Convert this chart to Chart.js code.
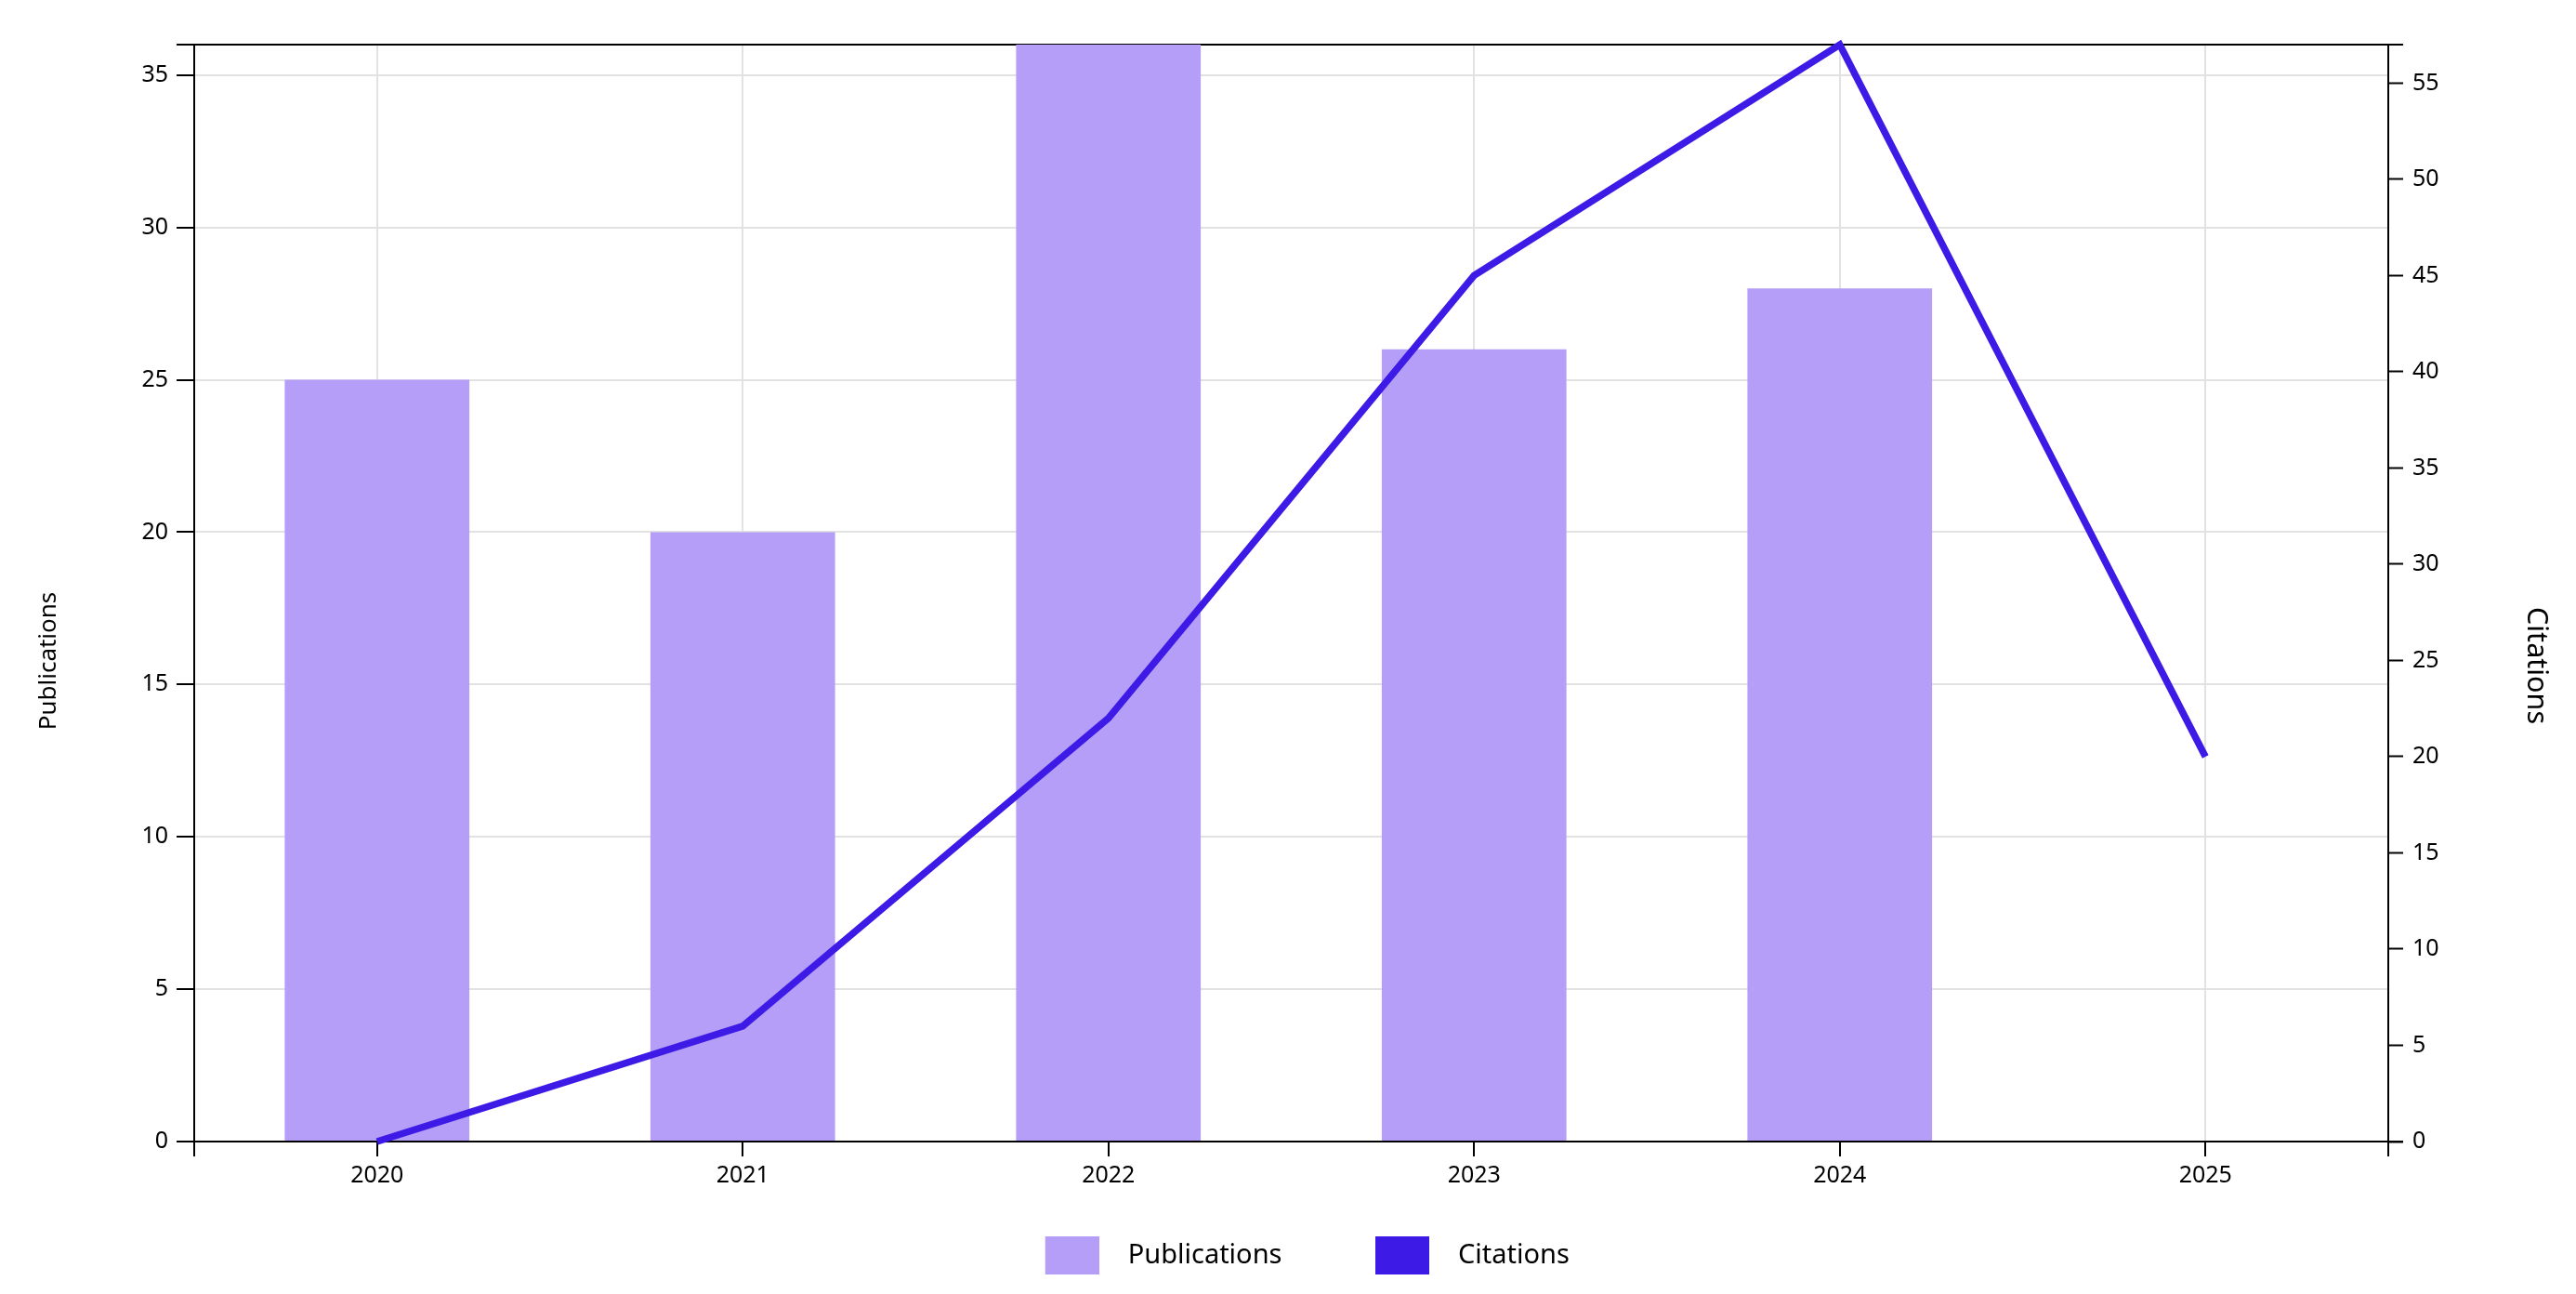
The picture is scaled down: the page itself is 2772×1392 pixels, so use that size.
<!DOCTYPE html>
<html>
<head>
<meta charset="utf-8">
<script src="https://cdn.jsdelivr.net/npm/chart.js@4/dist/chart.umd.min.js"></script>
<style>
html,body{margin:0;padding:0;background:#fff;}
#wrap{width:2772px;height:1392px;}
</style>
</head>
<body>
<div id="wrap"><canvas id="c" width="2772" height="1392"></canvas></div>
<script>
const years = ['2020', '2021', '2022', '2023', '2024', '2025'];
const publications = [25, 20, 36, 26, 28, 0];
const citations = [0, 6, 22, 45, 57, 20];
const seriesNames = ['Publications', 'Citations'];
const axisTitles = ['Publications', 'Citations'];

const FONT = "'Noto Sans', sans-serif";
const PUB_COLOR = '#b59ef8';
const CIT_COLOR = '#3d1ae6';
const GRID = '#e2e2e2';

// legend swatch: transparent lead-in, then a 58x41 colour block
function swatch(color) {
  const cv = document.createElement('canvas');
  cv.width = 102; cv.height = 41;
  const g = cv.getContext('2d');
  g.fillStyle = color;
  g.fillRect(44, 0, 58, 41);
  return cv;
}

const framePlugin = {
  id: 'frame',
  beforeDatasetsDraw(chart) {
    const {ctx, chartArea: a} = chart;
    ctx.save();
    ctx.strokeStyle = '#000';
    ctx.lineWidth = 2;
    ctx.beginPath();
    ctx.moveTo(a.left - 19, a.top);
    ctx.lineTo(a.right + 16, a.top);
    ctx.moveTo(a.left, a.bottom);
    ctx.lineTo(a.left, a.bottom + 16);
    ctx.moveTo(a.right, a.bottom);
    ctx.lineTo(a.right, a.bottom + 16);
    ctx.stroke();
    ctx.restore();
  },
  afterDatasetDraw(chart, args) {
    if (args.index !== 0) return;
    const {ctx, chartArea: a} = chart;
    ctx.save();
    ctx.strokeStyle = '#000';
    ctx.lineWidth = 2;
    ctx.beginPath();
    ctx.moveTo(a.left - 19, a.bottom);
    ctx.lineTo(a.right + 16, a.bottom);
    ctx.stroke();
    ctx.restore();
  },
  afterDraw(chart) {
    const {ctx} = chart;
    ctx.save();
    ctx.fillStyle = '#000';
    ctx.textAlign = 'center';
    ctx.textBaseline = 'middle';
    ctx.translate(53, 711);
    ctx.rotate(-Math.PI / 2);
    ctx.font = "26px " + FONT;
    ctx.fillText(axisTitles[0], 0, 0);
    ctx.restore();
    ctx.save();
    ctx.fillStyle = '#000';
    ctx.textAlign = 'center';
    ctx.textBaseline = 'middle';
    ctx.translate(2729, 716);
    ctx.rotate(Math.PI / 2);
    ctx.font = "30.5px " + FONT;
    ctx.fillText(axisTitles[1], 0, 0);
    ctx.restore();
  }
};

new Chart(document.getElementById('c'), {
  data: {
    labels: years,
    datasets: [
      {
        type: 'bar',
        label: seriesNames[0],
        data: publications,
        backgroundColor: PUB_COLOR,
        borderWidth: 0,
        yAxisID: 'yL',
        order: 2,
        categoryPercentage: 1.0,
        barPercentage: 0.505
      },
      {
        type: 'line',
        label: seriesNames[1],
        data: citations,
        borderColor: CIT_COLOR,
        backgroundColor: CIT_COLOR,
        borderWidth: 7.5,
        pointRadius: 0,
        pointHoverRadius: 0,
        tension: 0,
        fill: false,
        clip: false,
        yAxisID: 'yR',
        order: 1
      }
    ]
  },
  options: {
    responsive: false,
    animation: false,
    devicePixelRatio: 1,
    layout: { padding: { top: 48, left: 0, right: 19, bottom: 17 } },
    scales: {
      x: {
        type: 'category',
        offset: true,
        grid: { offset: false, color: GRID, lineWidth: 2, tickColor: '#000', tickWidth: 2, tickLength: 16, drawOnChartArea: true },
        border: { color: '#000', width: 2 },
        ticks: { color: '#000', font: { family: FONT, size: 25 }, padding: 6, maxRotation: 0, autoSkip: false },
        afterFit(s) { s.height = 68; }
      },
      yL: {
        type: 'linear',
        position: 'left',
        min: 0,
        max: Math.max(...publications),
        grid: { color: GRID, lineWidth: 2, tickColor: '#000', tickWidth: 2, tickLength: 19, drawOnChartArea: true },
        border: { color: '#000', width: 2 },
        ticks: { stepSize: 5, includeBounds: false, color: '#000', font: { family: FONT, size: 25 }, padding: 9 },
        afterFit(s) { s.width = 209; }
      },
      yR: {
        type: 'linear',
        position: 'right',
        min: 0,
        max: Math.max(...citations),
        grid: { drawOnChartArea: false, tickColor: '#000', tickWidth: 2, tickLength: 16 },
        border: { color: '#000', width: 2 },
        ticks: { stepSize: 5, includeBounds: false, color: '#000', font: { family: FONT, size: 25 }, padding: 10 },
        afterFit(s) { s.width = 183; }
      }
    },
    plugins: {
      tooltip: { enabled: false },
      legend: {
        position: 'bottom',
        labels: {
          color: '#000',
          font: { family: FONT, size: 29 },
          usePointStyle: true,
          pointStyleWidth: 135,
          padding: 40,
          generateLabels(chart) {
            return chart.data.datasets.map((ds, i) => ({
              text: ds.label,
              datasetIndex: i,
              fillStyle: ds.backgroundColor,
              strokeStyle: 'rgba(0,0,0,0)',
              lineWidth: 0,
              hidden: false,
              pointStyle: swatch(i === 0 ? PUB_COLOR : CIT_COLOR),
              fontColor: '#000'
            }));
          }
        }
      }
    }
  },
  plugins: [framePlugin]
});
</script>
</body>
</html>
